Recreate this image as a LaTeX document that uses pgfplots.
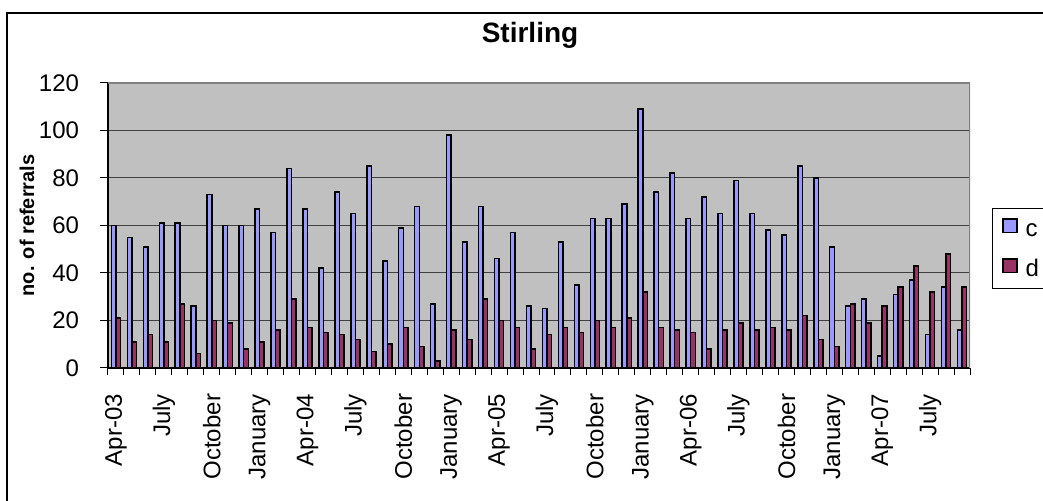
\documentclass[border=0pt]{standalone}
\usepackage{fontspec}
\setmainfont{Liberation Sans}
\usepackage{pgfplots}
\usepackage{pgfplotstable}
\pgfplotsset{compat=1.18}

\definecolor{cbar}{HTML}{9999FF}
\definecolor{dbar}{HTML}{993366}
\definecolor{plotbg}{HTML}{C0C0C0}

% month index, c, d  (Apr-03 = 1 ... Sep-07 = 54)
\pgfplotstableread{
m  c    d
1  60   21
2  55   11
3  51   14
4  61   11
5  61   27
6  26   6
7  73   20
8  60   19
9  60   8
10 67   11
11 57   16
12 84   29
13 67   17
14 42   15
15 74   14
16 65   12
17 85   7
18 45   10
19 59   17
20 68   9
21 27   3
22 98   16
23 53   12
24 68   29
25 46   20
26 57   17
27 26   8
28 25   14
29 53   17
30 35   15
31 63   20
32 63   17
33 69   21
34 109  32
35 74   17
36 82   16
37 63   15
38 72   8
39 65   16
40 79   19
41 65   16
42 58   17
43 56   16
44 85   22
45 80   12
46 51   9
47 26   27
48 29   19
49 5    26
50 31   34
51 37   43
52 14   32
53 34   48
54 16   34
}\referrals

\begin{document}
\begin{tikzpicture}
\begin{axis}[
  at={(54pt,66.5pt)}, anchor=south west,
  scale only axis,
  width=431pt, height=142.5pt,
  ybar=0pt, bar width=2.3pt,
  xmin=0.5, xmax=54.5,
  ymin=0, ymax=120,
  ytick={0,20,...,120},
  xtick={1,4,...,52},
  xticklabels={Apr-03,July,October,January,Apr-04,July,October,January,Apr-05,July,October,January,Apr-06,July,October,January,Apr-07,July},
  minor xtick={0.5,1.5,...,54.5},
  major x tick style={draw=none},
  tick align=outside,
  major tick length=4pt,
  minor tick length=3.5pt,
  tick style={black, line width=0.5pt},
  xtick pos=bottom, ytick pos=left,
  axis background/.style={fill=plotbg},
  axis x line*=bottom, axis y line*=left,
  axis line style={black, line width=0.6pt},
  ymajorgrids, grid style={black!75, line width=0.5pt},
  /pgf/number format/assume math mode=true,
  ticklabel style={font=\fontsize{12}{14}\selectfont},
  xticklabel style={rotate=90, anchor=east, inner sep=0pt, outer sep=9pt},
  yticklabel style={anchor=east, inner sep=0pt, outer sep=10.5pt},
  ylabel={no. of referrals},
  ylabel style={font=\bfseries\fontsize{10}{12}\selectfont, at={(axis description cs:-0.094,0.5)}, anchor=center},
  title={Stirling},
  title style={font=\bfseries\fontsize{14}{16}\selectfont, at={(axis description cs:0.4896,1)}, anchor=center, yshift=18pt},
  legend style={at={(axis description cs:1.0255,0.5614)}, anchor=north west,
    draw=black, line width=0.5pt, fill=white, inner xsep=5pt, inner ysep=4pt,
    row sep=8pt, column sep=4pt, font=\fontsize{12}{14}\selectfont,
    nodes={inner sep=0pt, text height=10pt, text depth=2pt, text width=26pt, align=left}},
  legend cell align=left,
  legend image code/.code={\draw[#1, line width=0.75pt] (0pt,-2pt) rectangle (6.8pt,4.8pt);},
]
\addplot[draw=black, line width=0.75pt, fill=cbar] table[x=m, y=c] {\referrals};
\addplot[draw=black, line width=0.75pt, fill=dbar] table[x=m, y=d] {\referrals};
\legend{c,d}
\draw[gray, line width=0.75pt] (rel axis cs:0,1) -- (rel axis cs:1,1) -- (rel axis cs:1,0);
\end{axis}
\draw[black, line width=0.75pt] (3.5pt,-10pt) -- (3.5pt,244pt) -- (540pt,244pt);
\pgfresetboundingbox
\useasboundingbox (0,0) rectangle (521.5pt,250.5pt);
\end{tikzpicture}
\end{document}
